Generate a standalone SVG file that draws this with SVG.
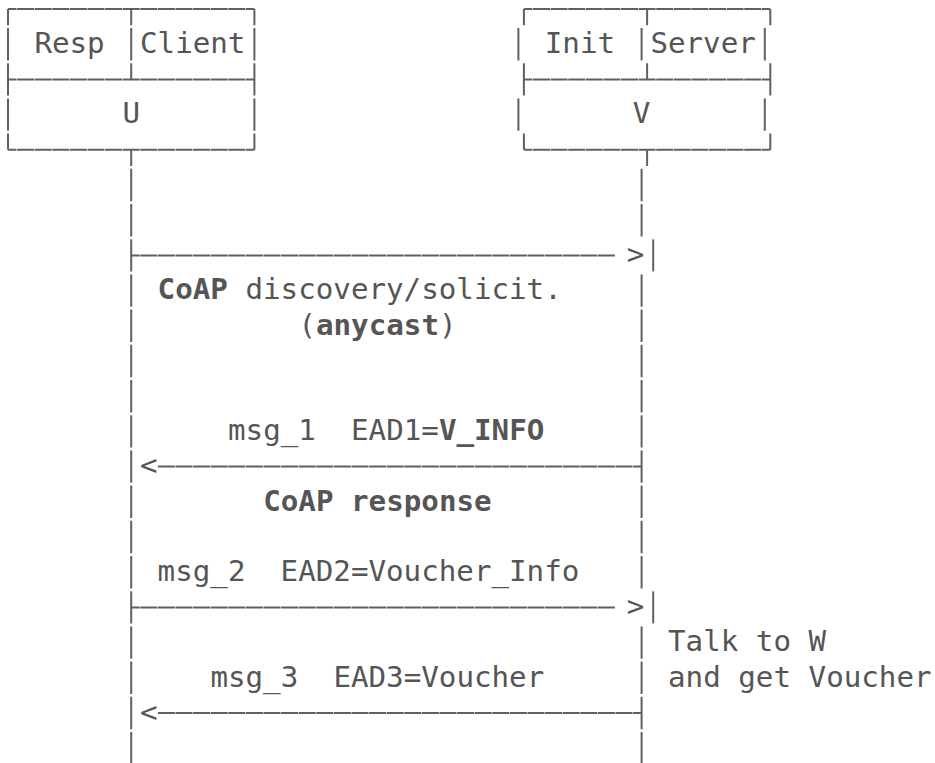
<svg xmlns="http://www.w3.org/2000/svg" width="935" height="763" viewBox="0 0 935 763">
  <style>
    text { font-family: "DejaVu Sans Mono", "Liberation Mono", monospace; font-size: 29.2px; fill: #555; white-space: pre; }
    .b { font-weight: bold; }
    .hl { fill: none; stroke: #606060; stroke-width: 2; stroke-dasharray: 17 0.6; stroke-dashoffset: 8.5; }
    .vl { fill: none; stroke: #606060; stroke-width: 2; }
    .life { fill: none; stroke: #606060; stroke-width: 2; stroke-dasharray: 32.4 2.8; }
    .msg { fill: none; stroke: #606060; stroke-width: 2; stroke-dasharray: 17 0.6; }
  </style>

  <!-- Party U: responder / client -->
  <g id="node-u">
    <path class="hl" d="M8 9 H254.4 M8 79.4 H254.4 M8 149.8 H254.4"/>
    <path class="vl" d="M8 9 V25.2 M8 28 V60.4 M8 63.2 V95.6 M8 98.4 V130.8 M8 133.6 V149.8
                        M131.2 9 V25.2 M131.2 28 V60.4 M131.2 63.2 V79.4 M131.2 149.8 V166
                        M254.4 9 V25.2 M254.4 28 V60.4 M254.4 63.2 V95.6 M254.4 98.4 V130.8 M254.4 133.6 V149.8"/>
    <text x="34.4" y="53">Resp</text>
    <text x="140" y="53">Client</text>
    <text x="122.4" y="123.4">U</text>
  </g>

  <!-- Party V: initiator / server -->
  <g id="node-v">
    <path class="hl" d="M523.9 9 H770.3 M523.9 79.4 H770.3 M523.9 149.8 H770.3"/>
    <path class="vl" d="M523.9 9 V25.2 M523.9 63.2 V95.6 M523.9 133.6 V149.8
                        M518.4 28 V60.4 M518.4 98.4 V130.8
                        M647.1 9 V25.2 M647.1 63.2 V79.4 M647.1 149.8 V166
                        M641.6 28 V60.4
                        M770.3 9 V25.2 M770.3 63.2 V95.6 M770.3 133.6 V149.8
                        M764.8 28 V60.4 M764.8 98.4 V130.8"/>
    <text x="544.8" y="53">Init</text>
    <text x="650.4" y="53">Server</text>
    <text x="632.8" y="123.4">V</text>
  </g>

  <!-- Lifelines and messages -->
  <g id="connectors">
    <g id="lifelines">
      <line class="life" x1="131.2" y1="168.8" x2="131.2" y2="764.4"/>
      <line class="life" x1="641.6" y1="168.8" x2="641.6" y2="236.4"/>
      <line class="life" x1="641.6" y1="274.4" x2="641.6" y2="588.4"/>
      <line class="life" x1="641.6" y1="626.4" x2="641.6" y2="764.4"/>
    </g>
    <!-- discovery / solicitation: U to V -->
    <g id="m-discovery">
      <path class="msg" style="stroke-dashoffset:8.5" d="M131.2 255.4 H615.2"/>
      <text x="626.8" y="264.2">&gt;</text>
      <line class="vl" x1="653.2" y1="239.4" x2="653.2" y2="271.4"/>
    </g>
    <!-- msg_1: V to U -->
    <g id="m-msg1">
      <text x="140" y="475.4">&lt;</text>
      <path class="msg" style="stroke-dashoffset:17.3" d="M157.6 466.6 H641.6"/>
    </g>
    <!-- msg_2: U to V -->
    <g id="m-msg2">
      <path class="msg" style="stroke-dashoffset:8.5" d="M131.2 607.4 H615.2"/>
      <text x="626.8" y="616.2">&gt;</text>
      <line class="vl" x1="653.2" y1="591.4" x2="653.2" y2="623.4"/>
    </g>
    <!-- msg_3: V to U -->
    <g id="m-msg3">
      <text x="140" y="721.8">&lt;</text>
      <path class="msg" style="stroke-dashoffset:17.3" d="M157.6 713 H641.6"/>
    </g>
  </g>

  <!-- Message labels and notes -->
  <g id="labels">
    <text x="157.6" y="299.4"><tspan class="b">CoAP</tspan> discovery/solicit.</text>
    <text x="298.4" y="334.6">(<tspan class="b">anycast</tspan>)</text>
    <text x="228" y="440.2">msg_1  EAD1=<tspan class="b">V_INFO</tspan></text>
    <text class="b" x="263.2" y="510.6">CoAP response</text>
    <text x="157.6" y="581">msg_2  EAD2=Voucher_Info</text>
    <text x="668" y="651.4">Talk to W</text>
    <text x="210.4" y="686.6">msg_3  EAD3=Voucher</text>
    <text x="668" y="686.6">and get Voucher</text>
  </g>
</svg>
